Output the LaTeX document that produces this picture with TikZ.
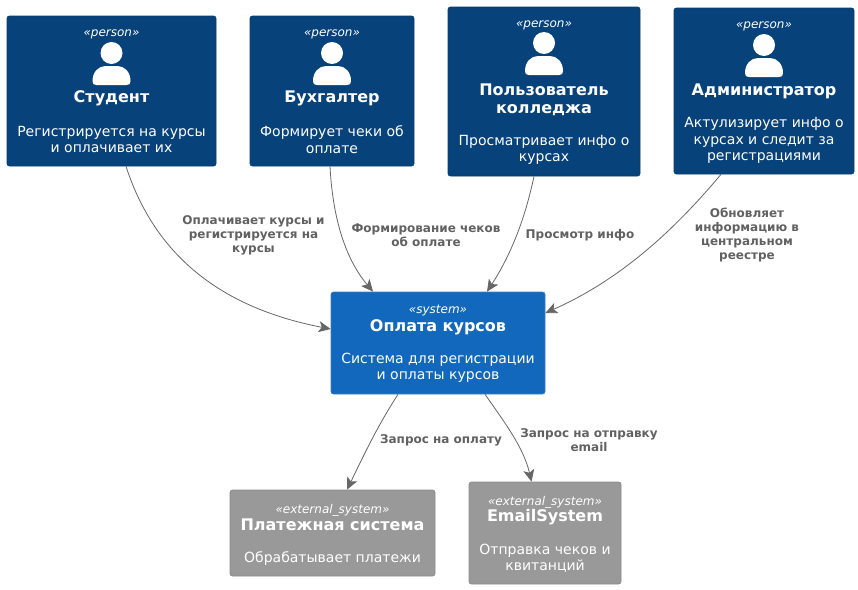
\documentclass[tikz,border=0pt]{standalone}
\usepackage{fontspec}
\setmainfont{DejaVu Sans}
\usetikzlibrary{arrows.meta}
\definecolor{personblue}{HTML}{08427B}
\definecolor{personline}{HTML}{073B6F}
\definecolor{systemblue}{HTML}{1168BD}
\definecolor{systemline}{HTML}{3C7FC0}
\definecolor{extgray}{HTML}{999999}
\definecolor{extline}{HTML}{8A8A8A}
\definecolor{edgegray}{HTML}{666666}
\tikzset{
  card/.style={%
    rectangle,
    rounded corners=2.5pt,
    line width=0.7pt,
    inner sep=0pt
  },
  personbox/.style={card,fill=personblue,draw=personline},
  systembox/.style={card,fill=systemblue,draw=systemline},
  extbox/.style={card,fill=extgray,draw=extline},
  stereo/.style={text=white,yshift=-2pt,font=\fontsize{12}{14}\selectfont\itshape},
  title/.style={text=white,align=center,yshift=-1.5pt,font=\fontsize{16}{18}\selectfont\bfseries},
  descr/.style={text=white,align=center,yshift=-0.5pt,font=\fontsize{14}{16.4}\selectfont},
  edgelabel/.style={text=edgegray!95!black,align=center,yshift=-1pt,font=\fontsize{12}{14}\selectfont\bfseries},
  personicon/.pic={
    \fill[white] (0,0) circle (11);
    \fill[white] (-19,28) .. controls (-19,19) and (-13,13) .. (-6,13)
      -- (6,13) .. controls (13,13) and (19,19) .. (19,28)
      .. controls (19,31) and (18,32) .. (15,32) -- (-15,32)
      .. controls (-18,32) and (-19,31) .. (-19,28) -- cycle;
  }
}

\begin{document}
\begin{tikzpicture}[%
  x=1pt,
  y=-1pt,
  link/.style={-{Stealth[length=12pt,width=11pt,inset=3pt,color=edgegray]},draw=edgegray,line width=0.8pt}
]
  \useasboundingbox (0,0) rectangle (858,589);

  % Boxes
  \node[personbox,minimum width=209pt,minimum height=150pt] (student) at (111.5,91) {};
  \node[personbox,minimum width=164pt,minimum height=150pt] (buh) at (332,91) {};
  \node[personbox,minimum width=192pt,minimum height=169pt] (collegeuser) at (544,91.5) {};
  \node[personbox,minimum width=180pt,minimum height=166pt] (admin) at (764,91) {};
  \node[systembox,minimum width=214pt,minimum height=102pt] (payment) at (438,343) {};
  \node[extbox,minimum width=205pt,minimum height=86pt] (paysystem) at (332.5,533) {};
  \node[extbox,minimum width=152pt,minimum height=102pt] (emailsystem) at (545,533) {};

  % Student
  \node[stereo] (s1) at (111.5,32.5) {«person»};
  \pic at (111.5,53) {personicon};
  \node[title] (s2) at (111.5,97) {Студент};
  \node[descr] (s3) at (111.5,139) {Регистрируется на курсы\\и оплачивает их};

  % Accountant
  \node[stereo] (b1) at (332,32.5) {«person»};
  \pic at (332,53) {personicon};
  \node[title] (b2) at (332,97) {Бухгалтер};
  \node[descr] (b3) at (332,139) {Формирует чеки об\\оплате};

  % College user
  \node[stereo] (u1) at (544,23.5) {«person»};
  \pic at (544,43) {personicon};
  \node[title] (u2) at (544,98) {Пользователь\\колледжа};
  \node[descr] (u3) at (544,149.5) {Просматривает инфо о\\курсах};

  % Administrator
  \node[stereo] (a1) at (764,24.5) {«person»};
  \pic at (764,45) {personicon};
  \node[title] (a2) at (764,90) {Администратор};
  \node[descr] (a3) at (764,140) {Актулизирует инфо о\\курсах и следит за\\регистрациями};

  % Systems
  \node[stereo] (c1) at (438,309) {«system»};
  \node[title] (c2) at (438,326) {Оплата курсов};
  \node[descr] (c3) at (438,367) {Система для регистрации\\и оплаты курсов};
  \node[stereo] (p1) at (332.5,508) {«external\_system»};
  \node[title] (p2) at (332.5,523.5) {Платежная система};
  \node[descr] (p3) at (332.5,558) {Обрабатывает платежи};
  \node[stereo] (e1) at (545,500) {«external\_system»};
  \node[title] (e2) at (545,516) {EmailSystem};
  \node[descr] (e3) at (545,558) {Отправка чеков и\\квитанций};

  % Edges
  \draw[link] ([xshift=14.5pt]student.south) to[out=-72,in=169,looseness=1.0] ([yshift=14pt]payment.west);
  \draw[link] ([xshift=-2pt]buh.south) to[out=-87,in=130,looseness=0.9] ([xshift=-65pt]payment.north);
  \draw[link] ([xshift=-10pt]collegeuser.south) to[out=-102,in=57,looseness=0.9] ([xshift=49pt]payment.north);
  \draw[link] ([xshift=-43pt]admin.south) to[out=-130,in=24,looseness=0.9] ([yshift=30pt]payment.east);
  \draw[link] ([xshift=-40pt]payment.south) to[out=-123,in=64,looseness=0.9] ([xshift=14.5pt]paysystem.north);
  \draw[link] ([xshift=47pt]payment.south) to[out=-55,in=103,looseness=0.9] ([xshift=-13.5pt]emailsystem.north);

  % Edge labels
  \node[edgelabel] (l1) at (253.5,234) {Оплачивает курсы и\\регистрируется на\\курсы};
  \node[edgelabel] (l2) at (426,234) {Формирование чеков\\об оплате};
  \node[edgelabel] (l3) at (580,234) {Просмотр инфо};
  \node[edgelabel] (l4) at (747,234) {Обновляет\\информацию в\\центральном\\реестре};
  \node[edgelabel] (l5) at (441,439) {Запрос на оплату};
  \node[edgelabel] (l6) at (589,439) {Запрос на отправку\\email};

\end{tikzpicture}
\end{document}
